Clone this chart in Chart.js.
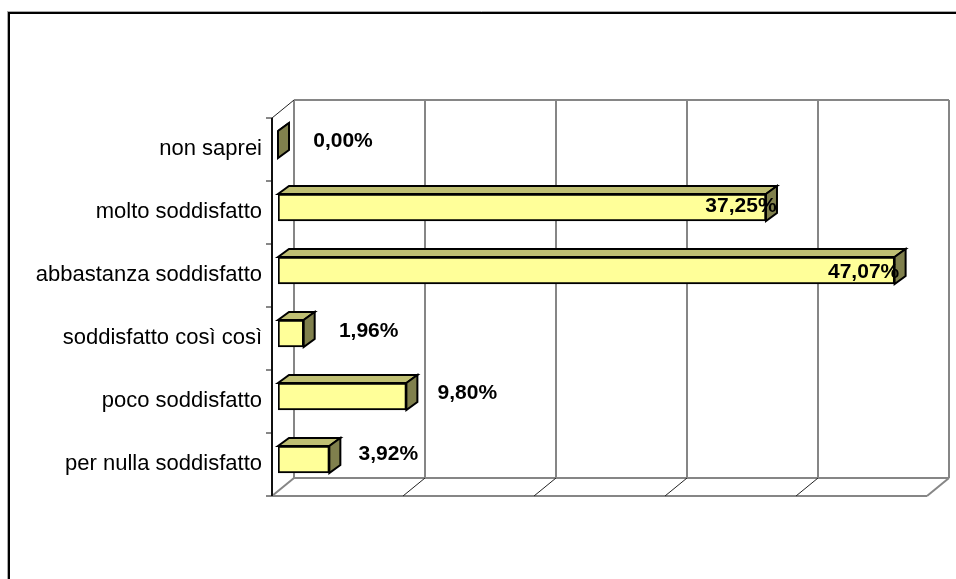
<!DOCTYPE html>
<html lang="it">
<head>
    <meta charset="UTF-8">
    <title>Soddisfazione</title>
    <script src="https://cdn.jsdelivr.net/npm/chart.js"></script>
    <style>
        html, body { margin: 0; padding: 0; background: #fff; overflow: hidden; }
        #wrap { width: 956px; height: 579px; }
    </style>
</head>
<body>
    <div id="wrap"><canvas id="chart" width="956" height="579"></canvas></div>
    <script>
        const categories = ['non saprei', 'molto soddisfatto', 'abbastanza soddisfatto', 'soddisfatto così così', 'poco soddisfatto', 'per nulla soddisfatto'];
        const values = [0.00, 37.25, 47.07, 1.96, 9.80, 3.92];
        const axisTicks = [0, 10, 20, 30, 40, 50];

        // hand placed value labels, relative to the end of each bar
        const labelNudge = [[65, -3], [-25, -1], [-31, 2], [65, -2], [61, -3], [59, -5]];

        const wallDx = 16, wallDy = -13;    // bar plane -> back wall
        const floorDx = -22, floorDy = 18;  // back wall -> front edge
        const depthDx = 11, depthDy = -8;   // bar depth

        function line(ctx, x1, y1, x2, y2) {
            ctx.beginPath();
            ctx.moveTo(x1, y1);
            ctx.lineTo(x2, y2);
            ctx.stroke();
        }

        function face(ctx, pts, fill) {
            ctx.beginPath();
            pts.forEach((p, i) => i ? ctx.lineTo(p[0], p[1]) : ctx.moveTo(p[0], p[1]));
            ctx.closePath();
            ctx.fillStyle = fill;
            ctx.fill();
            ctx.stroke();
        }

        const box3d = {
            id: 'box3d',
            beforeDatasetsDraw(chart) {
                const ctx = chart.ctx, x = chart.scales.x, y = chart.scales.y;
                const top = chart.chartArea.top + wallDy, bottom = chart.chartArea.bottom + wallDy;
                ctx.save();

                // outer frame, only top and left
                ctx.strokeStyle = '#aaa';
                ctx.lineWidth = 1;
                line(ctx, 7, 11.5, 956, 11.5);
                line(ctx, 7.5, 11, 7.5, 579);
                ctx.strokeStyle = '#000';
                ctx.lineWidth = 2;
                line(ctx, 8, 13, 956, 13);
                line(ctx, 9, 12, 9, 579);

                // back wall and floor
                ctx.strokeStyle = '#868686';
                axisTicks.forEach(t => {
                    const px = Math.round(x.getPixelForValue(t)) + wallDx;
                    line(ctx, px, top, px, bottom);
                });
                const left = x.getPixelForValue(0) + wallDx, right = x.getPixelForValue(50) + wallDx;
                line(ctx, left, top, right, top);
                line(ctx, left, bottom, right, bottom);
                line(ctx, left + floorDx, bottom + floorDy, right + floorDx, bottom + floorDy);

                // floor diagonals: the two outer ones are grey, the inner ones thin and dark
                axisTicks.forEach((t, i) => {
                    const px = x.getPixelForValue(t) + wallDx;
                    const outer = i === 0 || i === axisTicks.length - 1;
                    ctx.lineWidth = outer ? 2 : 1;
                    ctx.strokeStyle = outer ? '#868686' : '#222';
                    line(ctx, px, bottom, px + floorDx, bottom + floorDy);
                });
                ctx.lineWidth = 1;
                ctx.strokeStyle = '#222';
                line(ctx, left, top, left + floorDx, top + floorDy);

                // category axis on the front edge
                ctx.lineWidth = 2;
                ctx.strokeStyle = '#111';
                const axisX = left + floorDx;
                line(ctx, axisX, top + floorDy, axisX, bottom + floorDy);
                const step = y.getPixelForValue(1) - y.getPixelForValue(0);
                ctx.lineWidth = 1;
                for (let i = 0; i <= categories.length; i++) {
                    const py = y.getPixelForValue(i) - step / 2 + wallDy + floorDy;
                    line(ctx, axisX - 6, py, axisX, py);
                }

                // top and side faces of the bars
                ctx.lineWidth = 2;
                ctx.strokeStyle = '#000';
                chart.getDatasetMeta(0).data.forEach(bar => {
                    const h = bar.height / 2, x0 = bar.base, x1 = bar.x;
                    face(ctx, [[x0, bar.y - h], [x0 + depthDx, bar.y - h + depthDy], [x1 + depthDx, bar.y - h + depthDy], [x1, bar.y - h]], '#BFBF73');
                    face(ctx, [[x1, bar.y - h], [x1 + depthDx, bar.y - h + depthDy], [x1 + depthDx, bar.y + h + depthDy], [x1, bar.y + h]], '#80804D');
                });
                ctx.restore();
            },
            afterDatasetsDraw(chart) {
                const ctx = chart.ctx;
                ctx.save();
                ctx.font = 'bold 21px "Liberation Sans"';
                ctx.fillStyle = '#000';
                ctx.textAlign = 'center';
                ctx.textBaseline = 'middle';
                chart.getDatasetMeta(0).data.forEach((bar, i) => {
                    const text = values[i].toFixed(2).replace('.', ',') + '%';
                    ctx.fillText(text, bar.x + labelNudge[i][0], bar.y + labelNudge[i][1]);
                });
                ctx.restore();
            }
        };

        new Chart(document.getElementById('chart').getContext('2d'), {
            type: 'bar',
            data: {
                labels: categories,
                datasets: [{
                    data: values,
                    backgroundColor: '#FFFF99',
                    borderColor: '#000',
                    borderWidth: 2,
                    borderSkipped: false,
                    barThickness: 27
                }]
            },
            options: {
                indexAxis: 'y',
                responsive: false,
                animation: false,
                layout: { padding: { left: 0, top: 113, right: 23, bottom: 88 } },
                plugins: { legend: { display: false }, tooltip: { enabled: false } },
                scales: {
                    x: { display: false, min: 0, max: 50 },
                    y: {
                        afterFit(scale) { scale.width = 278; },
                        border: { display: false },
                        grid: { display: false, drawTicks: false },
                        ticks: {
                            padding: 16,
                            labelOffset: 4,
                            color: '#000',
                            font: { family: '"Liberation Sans"', size: 22 }
                        }
                    }
                }
            },
            plugins: [box3d]
        });
    </script>
</body>
</html>
